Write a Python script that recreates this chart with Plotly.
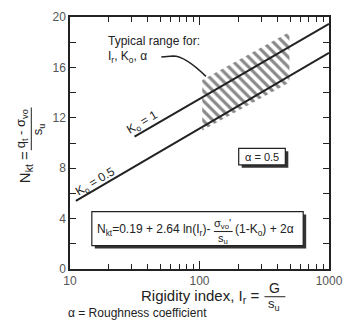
import plotly.graph_objects as go

# ---- data ----
ko1_ir = [31.5, 1000]
ko1_nkt = [10.5, 19.45]
ko05_ir = [11.1, 1000]
ko05_nkt = [5.4, 17.15]
band_ir = [105, 105, 495, 495, 105]
band_nkt = [11.0, 15.0, 18.8, 14.8, 11.0]
x_major = [10, 100, 1000]
x_minor = [20, 30, 40, 50, 60, 70, 80, 90, 200, 300, 400, 500, 600, 700, 800, 900]
y_major = [0, 4, 8, 12, 16, 20]

W, H = 353, 325
L, R, T, B = 70, 331, 10, 269


def px(x):
    return (x - L) / (R - L)


def py(y):
    return (B - y) / (B - T)


INK = "#222222"
TXT = "#222222"
FONT = "Liberation Sans, Arial, sans-serif"

fig = go.Figure()

fig.add_trace(go.Scatter(
    x=band_ir, y=band_nkt, mode="lines", fill="toself",
    fillcolor="rgba(255,255,255,0)", line=dict(width=0),
    fillpattern=dict(shape="\\", fgcolor="#111111", bgcolor="rgba(0,0,0,0)",
                     size=7, solidity=0.45),
    hoverinfo="skip", showlegend=False))
fig.add_trace(go.Scatter(x=ko1_ir, y=ko1_nkt, mode="lines",
                         line=dict(color=INK, width=2), showlegend=False))
fig.add_trace(go.Scatter(x=ko05_ir, y=ko05_nkt, mode="lines",
                         line=dict(color=INK, width=2), showlegend=False))

fig.update_xaxes(type="log", range=[1, 3], showgrid=False, zeroline=False,
                 showline=True, linecolor=INK, linewidth=1.5, mirror="ticks",
                 ticks="inside", ticklen=8, tickcolor=INK, tickwidth=1.2,
                 tickmode="array", tickvals=x_major, ticktext=[str(v) for v in x_major],
                 tickfont=dict(family=FONT, size=12, color="#555555"),
                 minor=dict(ticks="inside", ticklen=5, tickcolor=INK, tickwidth=1.2,
                            tickmode="array", tickvals=x_minor, showgrid=False))
fig.update_yaxes(range=[0, 20], showgrid=False, zeroline=False,
                 showline=True, linecolor=INK, linewidth=1.5, mirror="ticks",
                 ticks="inside", ticklen=6, tickcolor=INK, tickwidth=1.2,
                 tickmode="array", tickvals=y_major, ticktext=[str(v) for v in y_major],
                 tickfont=dict(family=FONT, size=12, color="#555555"),
                 minor=dict(ticks="inside", ticklen=6, tickcolor=INK, tickwidth=1.2,
                            dtick=2, showgrid=False))

ann = []


def text(x, y, s, size=12, xanchor="center", yanchor="middle", angle=0, color=TXT):
    ann.append(dict(x=px(x), y=py(y), xref="paper", yref="paper", text=s,
                    showarrow=False, xanchor=xanchor, yanchor=yanchor,
                    textangle=angle, font=dict(family=FONT, size=size, color=color)))


shapes = []


def line(x0, y0, x1, y1, w=1.2, color=INK):
    shapes.append(dict(type="line", xref="paper", yref="paper",
                       x0=px(x0), y0=py(y0), x1=px(x1), y1=py(y1),
                       line=dict(color=color, width=w)))


def box(x0, y0, x1, y1, sh=3):
    shapes.append(dict(type="rect", xref="paper", yref="paper",
                       x0=px(x0 + sh), y0=py(y0 + sh), x1=px(x1 + sh), y1=py(y1 + sh),
                       line=dict(width=0), fillcolor="#333333"))
    shapes.append(dict(type="rect", xref="paper", yref="paper",
                       x0=px(x0), y0=py(y0), x1=px(x1), y1=py(y1),
                       line=dict(color=INK, width=1.2), fillcolor="white"))


# Typical range label + leader
text(106, 35, "Typical range for:", size=12, xanchor="left")
text(106, 51, "I<sub>r</sub>, K<sub>o</sub>, α", size=12, xanchor="left")
path = "M {:.4f} {:.4f} L {:.4f} {:.4f} Q {:.4f} {:.4f} {:.4f} {:.4f}".format(
    px(162), py(51), px(174), py(50), px(186), py(50), px(207), py(71))
shapes.append(dict(type="path", xref="paper", yref="paper", path=path,
                   line=dict(color=INK, width=1.5)))

# Ko labels along the lines
text(143, 119, "K<sub>o</sub> = 1", size=12, angle=-31)
text(96, 180, "K<sub>o</sub> = 0.5", size=12, angle=-31)

# alpha box
box(240, 145, 287, 162)
text(263.5, 153.5, "α = 0.5", size=11)

# formula box
box(92, 210, 305, 245)
text(213, 229, "N<sub>kt</sub>=0.19 + 2.64 ln(I<sub>r</sub>)-", size=12, xanchor="right")
text(224, 223, "σ<sub>vo</sub>'", size=11)
line(215, 230.5, 234, 230.5, w=1)
text(224, 238, "s<sub>u</sub>", size=11)
text(234, 229, "(1-K<sub>o</sub>) + 2α", size=12, xanchor="left")

# x axis title
text(262, 297, "Rigidity index, I<sub>r</sub> =", size=15, xanchor="right")
text(276, 289, "G", size=14)
line(266, 297.5, 287, 297.5, w=1)
text(276, 305, "s<sub>u</sub>", size=13)
text(66, 314, "α = Roughness coefficient", size=12, xanchor="left")

# y axis title
text(25, 164, "N<sub>kt</sub> =", size=15, angle=-90)
text(22, 125, "q<sub>t</sub> - σ<sub>vo</sub>", size=13, angle=-90)
line(31, 103, 31, 147, w=1)
text(39, 125, "s<sub>u</sub>", size=13, angle=-90)

fig.update_layout(width=W, height=H, margin=dict(l=L, r=W - R, t=T, b=H - B),
                  plot_bgcolor="white", paper_bgcolor="white",
                  annotations=ann, shapes=shapes, showlegend=False)

fig.write_html("out.html", config={"displayModeBar": False},
               post_script="document.body.style.margin='0';document.body.style.overflow='hidden';")
